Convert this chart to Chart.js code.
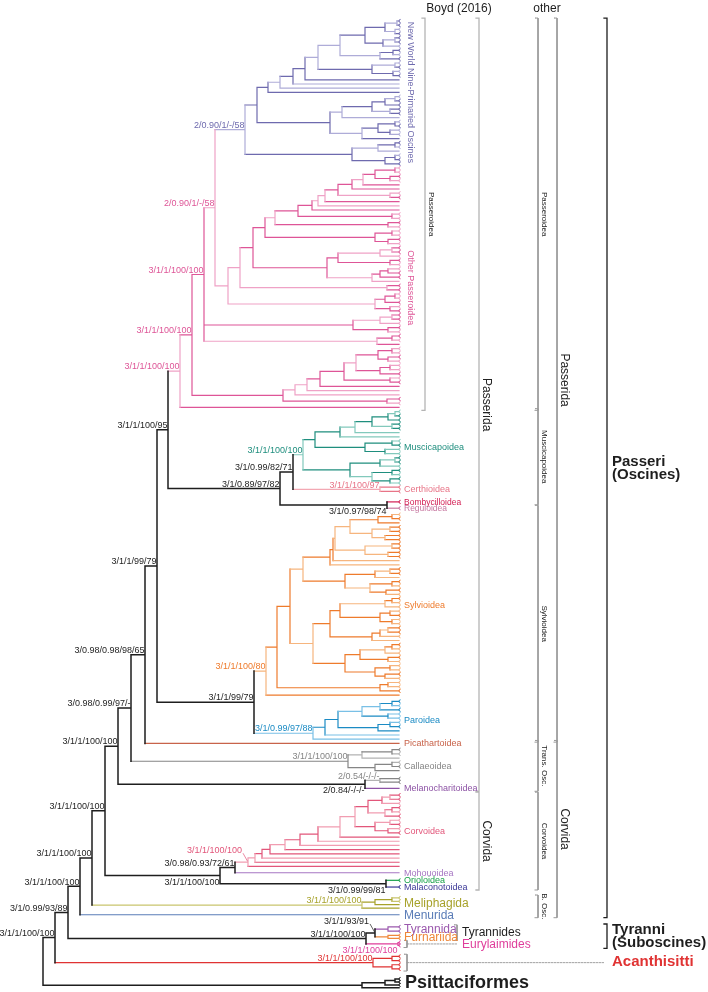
<!DOCTYPE html>
<html>
<head>
<meta charset="utf-8">
<script src="https://cdn.jsdelivr.net/npm/chart.js@4/dist/chart.umd.min.js"></script>
<style>
  body { margin: 0; background: #fff; }
  canvas { display: block; }
</style>
</head>
<body>
<canvas id="tree" width="708" height="992"></canvas>
<script>
// ---- data: tree topology ----
// "t" is a tip (optional number = row step from previous tip), ")N" closes a node at depth N,
// 'text' is the node support, "#key" starts a coloured clade. {name} inserts another clade.
const nwpoTree = `((
(((((((((t,t)397,(t,t)395)385,((t,t)395,t)383)365,((t,t)393,t)380)340,((t,t)395,(t,t)393)372)318,t)305,t)293,t)280,t)268,
(((((t,t)395,t)385,(t,t)390)372,t)342,(((t,t)395,(t,t)390)378,t)362)330
)257,
(((t,t)395,t)378,((t,t)395,t)385)352
)245'2/0.90/1/-/58'#nwpo`;

const passTree = `((((
{nwpo},
(((((
(((((((((t,t)395,(t,t)390)375,t)363,t)352,(t,t)390)338,t)325,t)318,t)312,(t,t)392)298,
(t,t)388)275,
((t,t)392,(t,t)388)375)265,
((((t,t)392,t)380,(t,t)390)338,(((t,t)388,t)380,t)372)327)253,
(t,t)387)240,
(((t,t)395,t)385,(t,t)390)375)228
)215'2/0.90/1/-/58',
(((t,t)392,t)380,(t,t)388)353,
((t,t)392,t)377
)204'3/1/1/100/100',
((((((((t,t)392,(t,t)388)378,((t,t)390,t)380)356,(t,t)390)344,t)320,t)307,t)295,(t,t)387)283
)192'3/1/1/100/100',
t)180'3/1/1/100/100'#pass`;

const muscTree = `(
((((((t,t)395,t)388,(t,t)392)372,t)355,t)340,((t,t)392,(t,t)385)365)315,
(((t,t)395,t)380,((t,t)392,(t,t)390)372)350
)303'3/1/1/100/100'#musc`;

const sylvTree = `(((
(((((((t1.5,t)392,t)378,((t,t)390,(t,t)385)372)350,((t,t)392,(t,t)388)365)335,t)333,t)330,(((t,t)390,t)375,((t,t)392,(t,t)386)370)345)303,
(((((t,t)392,t)385,((t,t)390,(t,t)392)380)340,(((t,t)388,t)380,t)372)330,((((t,t)392,t)385,(t,t)388)360,((t,t)390,(t,t)385)375)345)313
)290,((t,t)388,t)380)277,t)266'3/1/1/100/80'#sylv`;

const parTree = `((((((t1.5,t)392,t)380,(t,t)388)362,((t,t)390,t)378)338,t)325,t)313'3/1/0.99/97/88'#par`;
const callTree = `(((t1.5,t)392,t)362,((t,t)392,t)375)348'3/1/1/100/100'#call`;
const corvTree = `((((((((((((t1.6,t)390,t)382,((t,t)392,t)385)368,((t,t)390,(t,t)388)375)355,t)340,t)318,t)300,t)285,t)270,t)262,t)255,t)248'^3/1/1/100/100'#corv`;
const meliTree = `(((t2.6,t0.8)392,t0.8)375,t0.8)362'3/1/1/100/100'#meli`;
const suboscTree = `(((t2.9,t)388#tyr,(t,t0.7)388#furn)375'^3/1/1/93/91',(t,t0.7)398'_3/1/1/100/100'#eury)366'3/1/1/100/100'`;
const acanTree = `((t2.6,t)392,(t,t)392)373'3/1/1/100/100'#acan`;
const psitTree = `(((t2.4,t0.7)395,t0.7)385,t0.7)362#psit`;

const backboneTree = `(((((((((((
{pass},
(({musc},(t,t)380'3/1/1/100/97'#certh)293'3/1/0.99/82/71',(t2.5#bomby,t1.5#regul)387'_3/1/0.97/98/74')280'3/1/0.89/97/82'
)168'3/1/1/100/95',
({sylv},{par})254'3/1/1/99/79'
)157'3/1/1/99/79',
t#picath)145'3/0.98/0.98/98/65',
{call})131'3/0.98/0.99/97/-',
((t1.9,t0.8)380'2/0.54/-/-/-'#call,t1.5#melano)365'_2/0.84/-/-/-'
)118'3/1/1/100/100',
(({corv},t1.5#moho)235'3/0.98/0.93/72/61',(t1.8#orio,t1.6#mala)386'_3/1/0.99/99/81')220'_3/1/1/100/100'
)105'3/1/1/100/100',
{meli})92'3/1/1/100/100',
t1.6#menu)80'3/1/1/100/100',
{subosc})68'3/1/0.99/93/89',
{acan})55'3/1/1/100/100',
{psit})43`;

// ---- data: labels ----
const tipLabels = ['New World Nine-Primaried Oscines', 'Other Passeroidea', 'Muscicapoidea', 'Certhioidea',
  'Bombycilloidea', 'Reguloidea', 'Sylvioidea', 'Paroidea', 'Picathartoidea', 'Callaeoidea', 'Melanocharitoidea',
  'Corvoidea', 'Mohouoidea', 'Orioloidea', 'Malaconotoidea', 'Meliphagida', 'Menurida', 'Tyrannida', 'Furnariida'];
const tipLabelClades = ['nwpo', 'pass', 'musc', 'certh', 'bomby', 'regul', 'sylv', 'par', 'picath', 'call', 'melano',
  'corv', 'moho', 'orio', 'mala', 'meli', 'menu', 'tyr', 'furn'];

const columnHeads = ['Boyd (2016)', 'other'];
const bracketNames = ['Passeroidea', 'Passerida', 'Corvida', 'Passeroidea', 'Muscicapoidea', 'Sylvioidea',
  'Trans. Osc.', 'Corvoidea', 'B. Osc.', 'Passerida', 'Corvida', 'Passeri\n(Oscines)', 'Tyranni\n(Suboscines)'];
const bracketFrom = ['nwpo', 'nwpo', 'corv', 'nwpo', 'musc', 'regul', 'picath', 'corv', 'meli', 'nwpo', 'picath', 'nwpo', 'tyr'];
const bracketTo = ['pass', 'melano', 'mala', 'pass', 'bomby', 'par', 'melano', 'mala', 'menu', 'par', 'menu', 'menu', 'eury'];
const bracketColumn = [0, 1, 1, 2, 2, 2, 2, 2, 2, 3, 3, 4, 4];

// ---- styling ----
const FONT = '"Liberation Sans", Arial, Helvetica, sans-serif';
const TIP = 399;
const palette = {
  bb: ['#1e1e1e'], psit: ['#1e1e1e'],
  nwpo: ['#6e6aae', '#aeacd8'], pass: ['#de5597', '#efa2c6'],
  musc: ['#1f8e7e', '#82c9bc'], certh: ['#e87487', '#f3a8b3'],
  bomby: ['#d21c52'], regul: ['#c777a0'],
  sylv: ['#ee7b2c', '#f6b57e'], par: ['#1b8bc4', '#79c0e6'],
  picath: ['#c8634a'], call: ['#858585', '#b3b3b3'], melano: ['#8d53a5'],
  corv: ['#e2567a', '#f19db1'], moho: ['#a676c3'], orio: ['#17a149'], mala: ['#3b3897'],
  meli: ['#a7a22a', '#c9c56e'], menu: ['#5a7cb7'],
  tyr: ['#9b58ad'], furn: ['#ef883a'], eury: ['#df3e9b'], acan: ['#e03333']
};
const columnX = [425, 479, 538, 557, 607];

// ---- parse and lay out ----
const parts = { nwpo: nwpoTree, pass: passTree, musc: muscTree, sylv: sylvTree, par: parTree, call: callTree,
  corv: corvTree, meli: meliTree, subosc: suboscTree, acan: acanTree, psit: psitTree };
const expand = s => s.replace(/\{(\w+)\}/g, (m, k) => expand(parts[k]));
const src = expand(backboneTree).replace(/\s+/g, '');

const parse = (s) => {
  let i = 0;
  const num = () => { const m = /^[0-9.]+/.exec(s.slice(i)); if (!m) return null; i += m[0].length; return parseFloat(m[0]); };
  const label = () => { if (s[i] !== "'") return null; const j = s.indexOf("'", i + 1); const t = s.slice(i + 1, j); i = j + 1; return t; };
  const tag = () => { if (s[i] !== '#') return null; const m = /^#(\w+)/.exec(s.slice(i)); i += m[0].length; return m[1]; };
  const node = () => {
    if (s[i] === '(') {
      i++;
      const kids = [node()];
      while (s[i] === ',') { i++; kids.push(node()); }
      if (s[i] !== ')') throw new Error('tree parse error at ' + i + ': ' + s.slice(i, i + 20));
      i++;
      const x = num(), lab = label(), key = tag();
      return { kids, x, lab, key };
    }
    if (s[i] !== 't') throw new Error('tree parse error at ' + i + ': ' + s.slice(i, i + 20));
    i++;
    const step = num(), key = tag();
    return { x: TIP, step: step === null ? 1 : step, key };
  };
  const root = node();
  if (i !== s.length) throw new Error('tree parse: leftover ' + s.slice(i, i + 20));
  return root;
};

const root = parse(src);
const nodes = [], leaves = [];
let cursor = null;
const layout = (n, color) => {
  n.color = n.key || color;
  n.idx = nodes.length;
  nodes.push(n);
  if (!n.kids) {
    cursor = cursor === null ? 0 : cursor + n.step;
    n.y = cursor;
    leaves.push(n);
    return;
  }
  n.kids.forEach(k => { k.parent = n; layout(k, n.color); });
  n.y = (n.kids[0].y + n.kids[n.kids.length - 1].y) / 2;
};
layout(root, 'bb');

const stroke = n => {
  const p = palette[n.color];
  return p.length > 1 && (n.idx * 37) % 7 < 3 ? p[1] : p[0];
};
const lineWidth = n => (n.color === 'bb' || n.color === 'psit') ? 1.5 : 1.2;

const groups = new Map();
const addSeg = (color, width, pts, dash) => {
  const k = color + '|' + width + '|' + (dash ? 'd' : '');
  if (!groups.has(k)) groups.set(k, { color, width, dash, data: [] });
  const g = groups.get(k);
  pts.forEach(p => g.data.push(p));
  g.data.push({ x: null, y: null });
};

nodes.forEach(n => {
  if (!n.kids) return;
  const first = n.kids[0], last = n.kids[n.kids.length - 1];
  addSeg(stroke(n), lineWidth(n), [{ x: n.x, y: first.y }, { x: n.x, y: last.y }]);
  n.kids.forEach(k => addSeg(stroke(k), lineWidth(k), [{ x: n.x, y: k.y }, { x: k.x, y: k.y }]));
});

const cladeRange = key => {
  const ys = leaves.filter(l => l.color === key).map(l => l.y);
  return [Math.min(...ys), Math.max(...ys)];
};

// brackets on the right
const bracketColor = [['#b4b4b4', 1.3], ['#b4b4b4', 1.3], ['#9a9a9a', 1], ['#9a9a9a', 1], ['#1e1e1e', 1.3]];
const bracketSpan = bracketNames.map((name, i) => [cladeRange(bracketFrom[i])[0] - 0.7, cladeRange(bracketTo[i])[1] + 0.7]);
bracketNames.forEach((name, i) => {
  const cx = columnX[bracketColumn[i]];
  const [a, b] = bracketSpan[i];
  const [c, w] = bracketColor[bracketColumn[i]];
  addSeg(c, w, [{ x: cx - 3, y: a }, { x: cx, y: a }, { x: cx, y: b }, { x: cx - 3, y: b }]);
});
// small brackets near the tips
const tyrSpan = [cladeRange('tyr')[0] - 0.5, cladeRange('furn')[1] + 0.5];
addSeg('#9a9a9a', 1, [{ x: 454, y: tyrSpan[0] }, { x: 457, y: tyrSpan[0] }, { x: 457, y: tyrSpan[1] }, { x: 454, y: tyrSpan[1] }]);
['eury', 'acan'].forEach(k => {
  const [a, b] = cladeRange(k);
  addSeg('#9a9a9a', 1, [{ x: 404, y: a - 0.5 }, { x: 407, y: a - 0.5 }, { x: 407, y: b + 0.5 }, { x: 404, y: b + 0.5 }]);
});
const euryMid = (cladeRange('eury')[0] + cladeRange('eury')[1]) / 2;
const acanMid = (cladeRange('acan')[0] + cladeRange('acan')[1]) / 2;
addSeg('#8a8a8a', 0.8, [{ x: 407, y: euryMid }, { x: 457, y: euryMid }], true);
addSeg('#8a8a8a', 0.8, [{ x: 407, y: acanMid }, { x: 605, y: acanMid }], true);

const datasets = [...groups.values()].map(g => ({
  data: g.data,
  showLine: true,
  borderColor: g.color,
  borderWidth: g.width,
  borderDash: g.dash ? [1.5, 1.5] : [],
  borderCapStyle: 'square',
  pointRadius: 0,
  spanGaps: false,
  fill: false,
  tension: 0
}));

// ---- text and tip hooks ----
const textPlugin = {
  id: 'treeText',
  afterDatasetsDraw(chart) {
    const ctx = chart.ctx;
    const X = v => chart.scales.x.getPixelForValue(v);
    const Y = v => chart.scales.y.getPixelForValue(v);
    const text = (str, px, py, o) => {
      ctx.save();
      ctx.font = o.font;
      ctx.fillStyle = o.color || '#1e1e1e';
      ctx.textAlign = o.align || 'left';
      ctx.textBaseline = o.base || 'alphabetic';
      if (o.rotate) { ctx.translate(px, py); ctx.rotate(Math.PI / 2); ctx.fillText(str, 0, 0); }
      else ctx.fillText(str, px, py);
      ctx.restore();
    };

    // tip hooks
    leaves.forEach(l => {
      if (l.parent.x < 380) return;
      ctx.save();
      ctx.strokeStyle = stroke(l);
      ctx.lineWidth = 1;
      ctx.beginPath();
      ctx.arc(X(TIP) + 1.6, Y(l.y), 1.6, -Math.PI / 2, Math.PI / 2, true);
      ctx.stroke();
      ctx.restore();
    });

    // node supports
    nodes.forEach(n => {
      if (!n.lab) return;
      let t = n.lab, mode = 'above';
      if (t[0] === '_') { mode = 'below'; t = t.slice(1); }
      else if (t[0] === '^') { mode = 'raised'; t = t.slice(1); }
      const nx = X(n.x), ny = Y(n.y), color = palette[n.color][0];
      const font = '9px ' + FONT;
      if (mode === 'above') text(t, nx - 0.5, ny - 1.8, { font, color, align: 'right' });
      else if (mode === 'below') text(t, nx - 0.5, ny + 2, { font, color, align: 'right', base: 'top' });
      else {
        text(t, nx - 6, ny - 9, { font, color, align: 'right' });
        ctx.save();
        ctx.strokeStyle = color;
        ctx.lineWidth = 0.7;
        ctx.beginPath();
        ctx.moveTo(nx - 5, ny - 9);
        ctx.lineTo(nx - 0.5, ny - 1);
        ctx.stroke();
        ctx.restore();
      }
    });

    // clade names at the tips
    tipLabels.forEach((name, i) => {
      const key = tipLabelClades[i];
      const [a, b] = cladeRange(key);
      const color = palette[key][0];
      const py = Y((a + b) / 2);
      if (i < 2) text(name, X(TIP) + 11, py, { font: '9px ' + FONT, color, align: 'center', base: 'middle', rotate: true });
      else if (['meli', 'menu', 'tyr', 'furn'].includes(key)) text(name, X(TIP) + 5, py + 0.5, { font: '12px ' + FONT, color, base: 'middle' });
      else if (key === 'bomby' || key === 'regul') text(name, X(TIP) + 5, py + 0.5, { font: '8.5px ' + FONT, color, base: 'middle' });
      else text(name, X(TIP) + 5, py + 0.5, { font: '9px ' + FONT, color, base: 'middle' });
    });

    const tyrMid = Y((tyrSpan[0] + tyrSpan[1]) / 2);
    text('Tyrannides', X(462), tyrMid, { font: '12px ' + FONT, base: 'middle' });
    text('Eurylaimides', X(462), Y(euryMid) + 1, { font: '12px ' + FONT, color: palette.eury[0], base: 'middle' });
    text('Acanthisitti', X(612), Y(acanMid) - 1, { font: 'bold 15px ' + FONT, color: palette.acan[0], base: 'middle' });
    const [pa, pb] = cladeRange('psit');
    text('Psittaciformes', X(TIP) + 6, Y((pa + pb) / 2), { font: 'bold 18px ' + FONT, base: 'middle' });

    // headers
    text(columnHeads[0], X(459), 9, { font: '12px ' + FONT, align: 'center', base: 'middle' });
    text(columnHeads[1], X(547), 9, { font: '12px ' + FONT, align: 'center', base: 'middle' });

    // bracket names
    bracketNames.forEach((name, i) => {
      const col = bracketColumn[i];
      const [a, b] = bracketSpan[i];
      const mid = Y((a + b) / 2);
      if (col === 4) {
        const lines = name.split('\n');
        text(lines[0], X(columnX[col] + 5), mid - 6.5, { font: 'bold 15px ' + FONT, base: 'middle' });
        text(lines[1], X(columnX[col] + 5), mid + 6.5, { font: 'bold 15px ' + FONT, base: 'middle' });
      } else {
        const big = col === 1 || col === 3;
        text(name, X(columnX[col] + (big ? 7 : 6.5)), mid, { font: (big ? '12px ' : '8px ') + FONT, color: '#222', align: 'center', base: 'middle', rotate: true });
      }
    });
  }
};

new Chart(document.getElementById('tree'), {
  type: 'scatter',
  data: { datasets },
  options: {
    responsive: false,
    animation: false,
    devicePixelRatio: 1,
    layout: { padding: 0 },
    plugins: { legend: { display: false }, tooltip: { enabled: false } },
    scales: {
      x: { type: 'linear', min: 0, max: 708, display: false },
      y: { type: 'linear', min: -5, max: -5 + 992 / 4.2, reverse: true, display: false }
    }
  },
  plugins: [textPlugin]
});
</script>
</body>
</html>
